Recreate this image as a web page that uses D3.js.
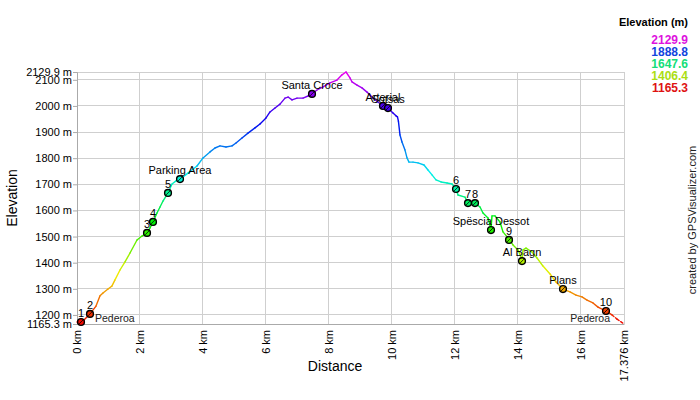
<!DOCTYPE html>
<html><head><meta charset="utf-8">
<script src="https://cdn.jsdelivr.net/npm/d3@7"></script>
<style>body{margin:0;background:#fff}svg{display:block;font-family:"Liberation Sans",Arial,sans-serif}</style>
</head><body><svg id="c" width="700" height="400"></svg>
<script>
// distance (km) and elevation (m) of the track
const trackKm = [0,0.127,0.222,0.413,0.604,0.731,0.826,0.985,1.112,1.207,1.366,1.525,1.684,1.906,2.065,2.224,2.319,2.414,2.541,2.637,2.732,2.891,3.018,3.145,3.272,3.526,3.812,4.003,4.225,4.384,4.543,4.733,4.924,5.051,5.241,5.432,5.654,5.813,6.004,6.131,6.290,6.449,6.608,6.704,6.831,6.989,7.180,7.338,7.465,7.624,7.815,8.037,8.259,8.418,8.545,8.672,8.736,8.895,9.053,9.212,9.403,9.561,9.720,9.879,10.038,10.133,10.180,10.210,10.260,10.324,10.419,10.483,10.546,10.673,10.832,11.023,11.150,11.277,11.404,11.563,11.754,11.913,12.040,12.103,12.325,12.420,12.643,12.802,12.897,13.056,13.120,13.151,13.183,13.278,13.437,13.532,13.691,13.850,14.009,14.104,14.136,14.168,14.263,14.454,14.613,14.803,15.026,15.216,15.438,15.661,15.851,16.042,16.201,16.391,16.550,16.804,16.995,17.154,17.376];
const trackElev = [1173,1173,1181,1204,1234,1273,1284,1299,1311,1334,1372,1403,1437,1487,1502,1514,1533,1556,1590,1613,1636,1667,1701,1713,1720,1743,1770,1801,1824,1839,1847,1843,1847,1858,1877,1896,1916,1931,1954,1977,1992,2007,2030,2034,2023,2030,2030,2038,2046,2061,2073,2088,2099,2119,2129.9,2107,2092,2080,2069,2053,2030,2015,2000,1992,1973,1962,1958,1942,1889,1862,1831,1801,1785,1785,1782,1774,1755,1736,1717,1709,1705,1701,1682,1659,1651,1628,1628,1613,1590,1571,1544,1529,1579,1579,1556,1518,1495,1468,1449,1422,1410,1449,1456,1441,1418,1387,1357,1326,1299,1288,1276,1269,1257,1246,1230,1215,1200,1184,1165.3];

// waypoints
const wpNames = ["1","2","3","4","5","Parking Area","Santa Croce","Arterial","Sotsas","6","7","8","Spëscia Dessot","9","Al Bagn","Plans","10"];
const wpKm =   [0.127,0.413,2.224,2.414,2.891,3.272,7.465,9.72,9.879,12.04,12.42,12.643,13.151,13.723,14.136,15.438,16.804];
const wpElev = [1173,1204,1514,1556,1667,1720,2046,2000,1992,1682,1628,1628,1525,1487,1406,1299,1215];
const endNames = ["Pederoa","Pederoa"];

// axis ticks
const minElev = 1165.3, maxElev = 2129.9, totalKm = 17.376;
const yTicks = [1165.3,1200,1300,1400,1500,1600,1700,1800,1900,2000,2100,2129.9];
const xTicks = [0,2,4,6,8,10,12,14,16,17.376];
const legendVals = [2129.9,1888.8,1647.6,1406.4,1165.3];

const svg = d3.select("#c");
const L=77,R=624,T=72,B=324;
const x = d3.scaleLinear().domain([0,totalKm]).range([L,R]);
const y = d3.scaleLinear().domain([minElev,maxElev]).range([B,T]);
const col = e => d3.hsl(300*(e-minElev)/(maxElev-minElev),1,0.47).formatHex();
const colLeg = e => d3.hsl(300*(e-minElev)/(maxElev-minElev),0.85,0.47).formatHex();
const fmtY = d => (Number.isInteger(d)? d : d.toFixed(1)) + " m";
const fmtX = d => (Number.isInteger(d)? d : d.toFixed(3)) + " km";

// grid
const g = svg.append("g");
g.selectAll(".hg").data(yTicks).join("line")
  .attr("x1",L).attr("x2",R).attr("y1",d=>y(d)).attr("y2",d=>y(d))
  .attr("stroke","#cfcfcf").attr("stroke-width",1).attr("shape-rendering","crispEdges");
g.selectAll(".vg").data(xTicks).join("line")
  .attr("x1",d=>x(d)).attr("x2",d=>x(d)).attr("y1",T).attr("y2",B)
  .attr("stroke","#cfcfcf").attr("stroke-width",1).attr("shape-rendering","crispEdges");

// y axis
const ya = svg.append("g").attr("transform",`translate(${L},0)`)
  .call(d3.axisLeft(y).tickValues(yTicks).tickFormat(fmtY).tickSize(4).tickPadding(1));
ya.select(".domain").attr("stroke","#aaa");
ya.selectAll(".tick line").attr("stroke","#aaa");
ya.selectAll("text").attr("font-size",11).attr("fill","#000").attr("font-family",null);

// x axis
const xa = svg.append("g").attr("transform",`translate(0,${B})`)
  .call(d3.axisBottom(x).tickValues(xTicks).tickFormat(fmtX).tickSize(0));
xa.select(".domain").attr("stroke","#aaa");
xa.selectAll("text").attr("font-size",11).attr("fill","#000").attr("font-family",null)
  .attr("transform","rotate(-90)").attr("text-anchor","end")
  .attr("x",-6).attr("y",0).attr("dy","0.35em");

// track
const pts = trackKm.map((k,i)=>[k,trackElev[i]]);
const lastWp = wpKm[wpKm.length-1];
svg.append("g").selectAll("line").data(d3.pairs(pts)).join("line")
  .attr("x1",d=>x(d[0][0])).attr("y1",d=>y(d[0][1]))
  .attr("x2",d=>x(d[1][0])).attr("y2",d=>y(d[1][1]))
  .attr("stroke",d=>col((d[0][1]+d[1][1])/2))
  .attr("stroke-width",1.4).attr("stroke-linecap","round")
  .attr("stroke-dasharray",d=>d[0][0]>=lastWp+0.15?"2.5,2":null);

// waypoints
const wp = wpNames.map((n,i)=>({n,k:wpKm[i],e:wpElev[i]}));
const wg = svg.append("g");
wg.selectAll("circle").data(wp).join("circle")
  .attr("cx",d=>x(d.k)).attr("cy",d=>y(d.e)).attr("r",3.4)
  .attr("fill",d=>col(d.e)).attr("stroke","#000").attr("stroke-width",1.4);
wg.selectAll("path").data(wp).join("path")
  .attr("d",d=>`M${x(d.k)-2},${y(d.e)+2}L${x(d.k)+2},${y(d.e)-2}`)
  .attr("stroke","#000").attr("stroke-width",0.8);
wg.selectAll("text").data(wp).join("text")
  .attr("x",d=>x(d.k)).attr("y",d=>y(d.e)-5)
  .attr("text-anchor","middle").attr("font-size",11).attr("fill","#000").text(d=>d.n);

// start / end labels
svg.append("text").attr("x",x(0)+18).attr("y",B-2)
  .attr("font-size",10.5).attr("fill","#222").text(endNames[0]);
svg.append("text").attr("x",x(totalKm)-14).attr("y",B-2)
  .attr("text-anchor","end").attr("font-size",10.5).attr("fill","#222").text(endNames[1]);

// axis titles
svg.append("text").attr("transform",`translate(17,${(T+B)/2}) rotate(-90)`)
  .attr("text-anchor","middle").attr("font-size",14).text("Elevation");
svg.append("text").attr("x",335).attr("y",371)
  .attr("text-anchor","middle").attr("font-size",14).text("Distance");

// credit
svg.append("text").attr("transform",`translate(696,220) rotate(-90)`)
  .attr("text-anchor","middle").attr("font-size",11).attr("fill","#222").text("created by GPSVisualizer.com");

// legend
svg.append("text").attr("x",688).attr("y",26).attr("text-anchor","end")
  .attr("font-size",11).attr("font-weight","bold").text("Elevation (m)");
svg.append("g").selectAll("text").data(legendVals).join("text")
  .attr("x",688).attr("y",(d,i)=>44+i*12).attr("text-anchor","end")
  .attr("font-size",12).attr("font-weight","bold").attr("fill",d=>colLeg(d))
  .text(d=>d.toFixed(1));
</script></body></html>
